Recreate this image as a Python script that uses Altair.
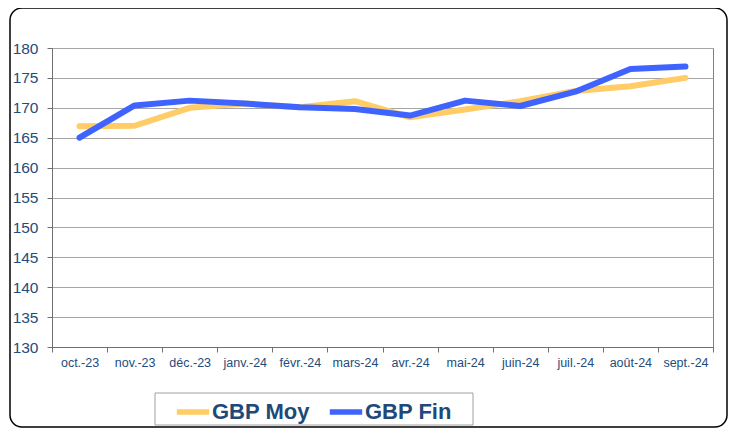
import altair as alt
import pandas as pd

months = ["oct.-23", "nov.-23", "déc.-23", "janv.-24", "févr.-24", "mars-24",
          "avr.-24", "mai-24", "juin-24", "juil.-24", "août-24", "sept.-24"]
gbp_moy = [166.9, 167.0, 170.0, 170.7, 170.1, 171.1, 168.4, 169.7, 171.1, 172.8, 173.6, 175.0]
gbp_fin = [165.0, 170.4, 171.2, 170.7, 170.1, 169.8, 168.7, 171.2, 170.3, 172.7, 176.5, 176.9]

df_moy = pd.DataFrame({"mois": months, "val": gbp_moy, "serie": "GBP Moy"})
df_fin = pd.DataFrame({"mois": months, "val": gbp_fin, "serie": "GBP Fin"})
deco_df = pd.DataFrame({"k": [0]})

TXT = "#234C7C"
LEG = "#1F4A78"
FONT = "Liberation Sans"

xenc = alt.X("mois:N", sort=months, bandPosition=0.5,
             scale=alt.Scale(type="band", paddingInner=0, paddingOuter=0),
             axis=alt.Axis(title=None, labelAngle=0, tickBand="extent", grid=False,
                           labelColor=TXT, labelFontSize=12.5, labelFont=FONT,
                           labelPadding=4, tickSize=5, tickColor="#707070",
                           domainColor="#707070"))
yenc = alt.Y("val:Q", scale=alt.Scale(domain=[130, 180], nice=False, zero=False),
             axis=alt.Axis(title=None, values=list(range(130, 181, 5)), gridColor="#A6A6A6",
                           labelColor=TXT, labelFontSize=15.5, labelFont=FONT, labelPadding=9,
                           tickSize=5, tickColor="#707070", domainColor="#707070"))

color_scale = alt.Scale(domain=["GBP Moy", "GBP Fin"], range=["#FFCC66", "#3F63FF"])
legend = alt.Legend(title=None, orient="none", legendX=122, legendY=345,
                    direction="horizontal", padding=0,
                    symbolType="stroke", symbolStrokeWidth=5.5,
                    symbolSize=1050, labelFontSize=22, labelFontWeight="bold",
                    labelColor=LEG, labelFont=FONT, columnPadding=8, labelOffset=0)
cenc = alt.Color("serie:N", scale=color_scale, legend=legend)

moy_line = alt.Chart(df_moy).mark_line(strokeWidth=6, strokeCap="round", strokeJoin="round").encode(
    x=xenc, y=yenc, color=cenc)
fin_line = alt.Chart(df_fin).mark_line(strokeWidth=6, strokeCap="round", strokeJoin="round").encode(
    x=xenc, y=yenc, color=cenc)
frame = alt.Chart(deco_df).mark_rect(filled=False, stroke="black", strokeWidth=1.5,
                                     cornerRadius=12).encode(
    x=alt.value(-42), x2=alt.value(675), y=alt.value(-40), y2=alt.value(379))
legend_box = alt.Chart(deco_df).mark_rect(fill="white", stroke="#A0A0A0", strokeWidth=1).encode(
    x=alt.value(103), x2=alt.value(421), y=alt.value(345), y2=alt.value(377))

chart = alt.layer(moy_line, fin_line, frame, legend_box).properties(
    width=661, height=299,
    autosize=alt.AutoSizeParams(type="none"),
    padding={"left": 44, "top": 40, "right": 15, "bottom": 81},
    background="white",
).configure_view(stroke="#808080")

chart.save("out.html", embed_options={"renderer": "svg", "actions": False})
